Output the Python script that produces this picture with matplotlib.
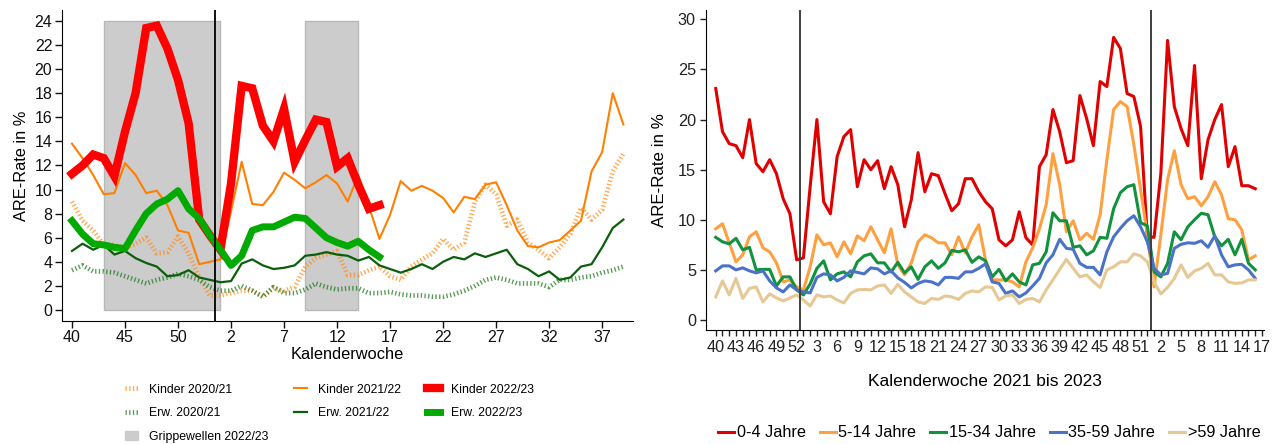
import numpy as np
import matplotlib
matplotlib.use('Agg')
import matplotlib.pyplot as plt
from matplotlib.patches import Patch

plt.rcParams['font.family'] = ['Liberation Sans', 'DejaVu Sans']

# ---------------- left chart: children / adults per season ----------------
weeks_left = list(range(40, 54)) + list(range(1, 40))

kinder_2021 = [9.0, 7.4, 6.6, 5.4, 5.4, 5.1, 5.5, 6.0, 4.7, 4.8, 6.1, 4.7, 2.7, 1.2,
               1.2, 1.4, 1.6, 1.6, 1.1, 1.8, 1.6, 1.9, 3.6, 4.3,
               4.6, 4.9, 2.9, 2.9, 3.3, 3.6, 2.8, 2.5, 3.6, 4.2, 4.7, 5.9, 5.0, 5.6,
               9.0, 10.4, 9.6, 7.0, 7.5, 5.6, 5.0, 4.3, 5.2, 6.3, 8.5, 7.5, 8.3, 11.5, 13.0]
erw_2021 = [3.3, 3.7, 3.2, 3.2, 3.1, 2.8, 2.5, 2.2, 2.5, 2.7, 3.0, 2.8, 2.5, 1.9,
            1.6, 1.6, 2.0, 1.6, 1.1, 1.9, 1.4, 1.4, 1.7, 2.2,
            1.9, 1.7, 1.8, 1.8, 1.4, 1.4, 1.5, 1.3, 1.2, 1.2, 1.1, 1.1, 1.3, 1.6,
            2.0, 2.5, 2.7, 2.5, 2.2, 2.2, 2.2, 1.9, 2.5, 2.5, 2.7, 2.8, 3.1, 3.3, 3.6]
kinder_2122 = [13.8, 12.6, 11.2, 9.6, 9.7, 12.2, 11.2, 9.7, 9.9, 8.7, 6.6, 6.4, 3.8, 4.0,
               4.2, 8.2, 12.3, 8.8, 8.7, 9.8, 11.4, 10.8,
               10.1, 10.6, 11.2, 10.5, 9.0, 11.2, 8.6, 5.9, 7.9, 10.7, 9.9, 10.3, 9.9, 9.3,
               8.1, 9.4, 9.2, 10.4, 10.6, 8.7, 6.6, 5.3, 5.2, 5.6, 5.8, 6.6, 7.4, 11.5,
               13.1, 18.0, 15.4]
erw_2122 = [4.9, 5.5, 5.0, 5.4, 4.6, 4.9, 4.3, 3.9, 3.6, 2.8, 2.9, 3.3, 2.7, 2.5,
            2.3, 2.4, 3.85, 4.2, 3.7, 3.4, 3.5, 3.7,
            4.5, 4.6, 4.8, 4.6, 4.5, 4.1, 4.4, 3.7, 3.4, 3.1, 3.4, 3.8, 3.4, 4.0,
            4.4, 4.2, 4.7, 4.4, 4.7, 5.0, 3.8, 3.4, 2.8, 3.2, 2.5, 2.7, 3.6, 3.8,
            5.2, 6.8, 7.5]
kinder_2223 = [11.3, 12.0, 12.9, 12.6, 11.1, 14.8, 18.0, 23.4, 23.6, 21.7, 19.1, 15.5, 7.5, 6.2,
               5.0, 10.5, 18.6, 18.4, 15.3, 14.0, 16.7, 12.3, 14.1, 15.8, 15.6, 11.9,
               12.6, 10.4, 8.4, 8.7]
erw_2223 = [7.4, 6.3, 5.5, 5.4, 5.2, 5.1, 6.6, 8.0, 8.8, 9.2, 9.9, 8.4, 7.6, 6.2,
            5.0, 3.7, 4.5, 6.6, 6.9, 6.9, 7.3, 7.7, 7.6, 6.8, 6.0, 5.6, 5.3, 5.7, 5.0, 4.4]

# flu waves 2022/23: (first week, week after the end), height of the shading
flu_waves = [(43, 1), (9, 14)]
flu_top = 24

left_ticks = [40, 45, 50, 2, 7, 12, 17, 22, 27, 32, 37]

# ---------------- right chart: age groups 2021 to 2023 ----------------
weeks_right = list(range(40, 53)) + list(range(1, 53)) + list(range(1, 18))

age_groups = ['0-4 Jahre', '5-14 Jahre', '15-34 Jahre', '35-59 Jahre', '>59 Jahre']
age_colors = ['#e00000', '#ffa040', '#12923c', '#4a72c8', '#e6c894']

a0_4 = [23.1, 18.8, 17.6, 17.4, 16.2, 20.0, 15.6, 14.8, 16.0, 14.6, 12.1, 10.6, 6.0, 6.2,
        13.3, 20.0, 11.8, 10.6, 16.3, 18.3,
        19.0, 13.3, 16.0, 15.0, 15.9, 13.1, 15.3, 13.5, 9.3, 12.0, 16.7, 12.8, 14.6, 14.4,
        12.6, 10.9, 11.6, 14.1, 14.1, 12.8,
        11.8, 11.1, 8.0, 7.4, 8.0, 10.8, 8.2, 7.5, 15.3, 16.5, 21.0, 18.8, 15.7, 15.9,
        22.4, 20.1, 17.4, 23.8, 23.3, 28.2, 27.1,
        22.6, 22.3, 19.3, 8.3, 8.25, 14.6, 27.9, 21.3, 19.1, 17.4, 25.4, 14.1, 18.0, 20.0,
        21.5, 15.3, 17.3, 13.4, 13.4, 13.1]
a5_14 = [9.1, 9.6, 7.7, 5.8, 6.5, 8.3, 8.8, 7.2, 6.8, 5.7, 3.8, 4.0, 3.3, 3.0,
         5.3, 8.5, 7.5, 7.7, 6.3, 7.8,
         6.6, 8.4, 7.9, 9.3, 8.0, 6.7, 9.1, 5.5, 4.5, 5.7, 7.8, 8.5, 8.2, 7.7,
         7.7, 6.5, 8.3, 6.7, 8.3, 9.5,
         6.0, 4.0, 4.0, 4.0, 3.8, 3.3, 5.8, 7.2, 9.1, 11.5, 16.6, 13.5, 8.8, 9.9,
         8.0, 8.65, 8.05, 10.5, 16.0, 21.0, 21.8,
         21.3, 17.5, 13.0, 8.5, 3.3, 8.5, 14.0, 16.9, 13.5, 12.1, 12.3, 11.4, 12.3, 13.8,
         12.5, 10.1, 10.0, 9.0, 6.0, 6.4]
a15_34 = [8.25, 7.8, 7.6, 8.15, 7.0, 7.25, 5.0, 5.05, 5.05, 3.4, 4.3, 4.3, 3.0, 2.5,
          3.6, 5.15, 5.9, 4.0, 4.6, 4.8,
          4.3, 5.8, 6.4, 6.6, 5.7, 5.7, 4.8, 5.75, 4.7, 5.3, 4.05, 5.3, 5.9, 5.15,
          5.7, 6.95, 6.8, 7.0, 5.75, 6.3,
          5.9, 4.3, 5.05, 3.9, 4.6, 3.8, 3.5, 5.5, 5.65, 6.8, 10.7, 9.9, 9.9, 7.25,
          7.4, 6.5, 6.9, 8.25, 8.15, 11.1, 12.7,
          13.3, 13.5, 9.7, 9.4, 4.8, 4.3, 5.65, 8.8, 8.0, 9.3, 10.0, 10.65, 10.5, 8.3,
          7.4, 8.05, 6.5, 8.05, 5.65, 5.0]
a35_59 = [4.9, 5.4, 5.4, 5.0, 5.2, 4.9, 4.7, 4.9, 3.9, 3.2, 2.8, 3.5, 3.0, 2.8,
          2.7, 4.25, 4.6, 4.5, 3.9, 4.25,
          4.9, 4.75, 4.6, 5.2, 5.1, 4.6, 4.9, 4.2, 3.75, 3.2, 3.65, 3.9, 3.8, 3.5,
          4.25, 4.25, 4.15, 4.8, 4.8, 5.15,
          5.6, 3.8, 3.65, 2.65, 2.9, 2.3, 2.7, 3.4, 4.15, 5.7, 6.5, 8.05, 7.15, 7.05,
          5.65, 5.25, 5.25, 4.5, 6.8, 8.3, 9.15,
          9.9, 10.4, 9.3, 7.8, 5.15, 4.5, 4.65, 7.15, 7.55, 7.7, 7.65, 7.9, 7.25, 8.4,
          6.5, 5.3, 5.5, 5.55, 5.0, 4.15]
a60 = [2.3, 3.9, 2.5, 4.15, 2.15, 3.15, 3.3, 1.8, 2.6, 2.2, 1.9, 2.2, 2.5, 2.0,
       1.4, 2.5, 2.3, 2.4, 2.0, 1.7,
       2.65, 3.0, 3.05, 3.0, 3.4, 3.5, 2.65, 3.55, 2.8, 2.3, 1.8, 1.65, 2.15, 2.05,
       2.4, 2.3, 2.05, 2.65, 2.9, 2.8,
       3.3, 3.25, 2.0, 2.4, 2.5, 1.65, 2.05, 2.15, 1.8, 3.0, 4.0, 5.05, 6.05, 5.15,
       4.3, 4.5, 3.8, 3.25, 5.0, 5.3, 5.8,
       5.8, 6.6, 6.4, 5.8, 3.8, 2.6, 3.25, 4.15, 5.5, 4.25, 4.9, 5.15, 5.65, 4.5,
       4.5, 3.8, 3.65, 3.7, 4.0, 4.0]
age_series = [a0_4, a5_14, a15_34, a35_59, a60]


def week_pos(weeks, wk, start=0):
    return weeks.index(wk, start)


fig = plt.figure(figsize=(12.76, 4.44), dpi=100)

### Left chart ###
ax1 = fig.add_axes([0.0486, 0.2777, 0.4474, 0.6998])
x_left = np.arange(len(weeks_left))

# flu waves shading
pos_a = week_pos(weeks_left, flu_waves[0][0])
pos_b = week_pos(weeks_left, flu_waves[0][1])
pos_c = week_pos(weeks_left, flu_waves[1][0], pos_b)
pos_d = week_pos(weeks_left, flu_waves[1][1], pos_b)
for a, b in [(pos_a, pos_b), (pos_c, pos_d)]:
    ax1.fill_between([a, b], 0, flu_top, facecolor='#cccccc', edgecolor='#b8b8b8',
                     lw=1, zorder=1)

dots = (0, (0.28, 0.5))
ax1.plot(x_left, kinder_2021, color='#ff8c1a', lw=3.4, ls=dots, alpha=0.75,
         label='Kinder 2020/21', zorder=2)
ax1.plot(x_left, erw_2021, color='#1d7a1d', lw=3.4, ls=dots, alpha=0.75,
         label='Erw. 2020/21', zorder=2)
ax1.plot(x_left, kinder_2122, color='#ff8000', lw=1.5, label='Kinder 2021/22', zorder=3)
ax1.plot(x_left, erw_2122, color='#0b5e0b', lw=1.6, label='Erw. 2021/22', zorder=3)
ax1.plot(x_left[:len(kinder_2223)], kinder_2223, color='#ff0000', lw=6,
         solid_joinstyle='miter', label='Kinder 2022/23', zorder=4)
ax1.plot(x_left[:len(erw_2223)], erw_2223, color='#00aa00', lw=5,
         label='Erw. 2022/23', zorder=5)

ax1.axvline(week_pos(weeks_left, 1) - 0.5, color='black', lw=1.3, zorder=6)

ax1.set_xlim(-0.94, 52.9)
ax1.set_ylim(-0.89, 24.9)
ax1.set_yticks(np.arange(0, 25, 2))
tick_pos = [week_pos(weeks_left, w, 0 if w >= 40 else 14) for w in left_ticks]
ax1.set_xticks(tick_pos)
ax1.set_xticklabels([str(w) for w in left_ticks])
ax1.tick_params(labelsize=11.5, length=5, width=1, pad=2, colors='#111111')
for s in ['top', 'right']:
    ax1.spines[s].set_visible(False)
ax1.set_xlabel('Kalenderwoche', fontsize=11.8, labelpad=1)
ax1.set_ylabel('ARE-Rate in %', fontsize=11.8, labelpad=4)

h, l = ax1.get_legend_handles_labels()
hd = dict(zip(l, h))
grip = Patch(facecolor='#cccccc', edgecolor='#cccccc')
order = ['Kinder 2020/21', 'Erw. 2020/21', None, 'Kinder 2021/22', 'Erw. 2021/22',
         'Kinder 2022/23', 'Erw. 2022/23']
leg_h = [hd[k] if k else grip for k in order]
leg_l = [k if k else 'Grippewellen 2022/23' for k in order]
fig.legend(leg_h, leg_l, loc='upper left', bbox_to_anchor=(0.098, 0.136), ncol=3,
           frameon=False, fontsize=8.8, handlelength=1.07, handletextpad=0.9,
           columnspacing=2.1, labelspacing=0.95, borderpad=0, borderaxespad=0)

### Right chart ###
ax2 = fig.add_axes([0.553, 0.2568, 0.4376, 0.7207])
x_right = np.arange(len(a0_4))
lines = []
for vals, name, col in zip(age_series, age_groups, age_colors):
    ln, = ax2.plot(x_right, vals, color=col, lw=2.2, label=name)
    lines.append(ln)
for i, w in enumerate(weeks_right):
    if w == 1:
        ax2.axvline(i - 0.5, color='#404040', lw=1.4)

ax2.set_xlim(-1.5, 81.3)
ax2.set_ylim(-1, 30.94)
ax2.set_yticks(np.arange(0, 31, 5))
ax2.set_xticks(np.arange(len(weeks_right)))
ax2.set_xticklabels([str(w) if i % 3 == 0 else '' for i, w in enumerate(weeks_right)])
ax2.tick_params(labelsize=11.7, length=4, width=1, pad=3, colors='#222222')
for s in ['top', 'right']:
    ax2.spines[s].set_visible(False)
ax2.set_xlabel('Kalenderwoche 2021 bis 2023', fontsize=12.5, labelpad=14)
ax2.set_ylabel('ARE-Rate in %', fontsize=12.2, labelpad=8)

fig.legend(lines, age_groups, loc='center left', bbox_to_anchor=(0.5627, 0.025), ncol=5,
           frameon=False, fontsize=11.7, handlelength=1.0, handletextpad=0.15,
           columnspacing=0.85, borderpad=0, borderaxespad=0)

fig.savefig('out.png', dpi=100)
